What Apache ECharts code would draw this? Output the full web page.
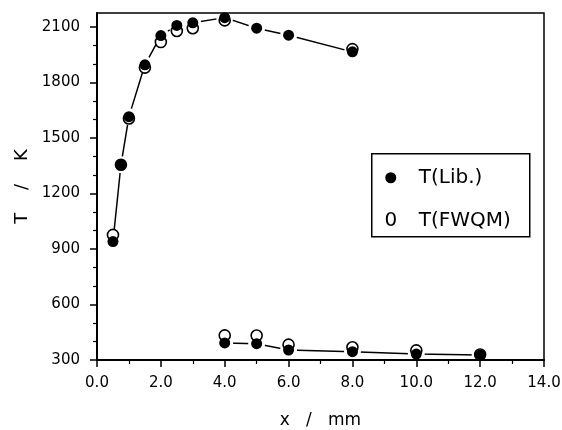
<!DOCTYPE html>
<html>
<head>
<meta charset="utf-8">
<script src="https://cdn.jsdelivr.net/npm/echarts@6/dist/echarts.min.js"></script>
<style>
  html, body { margin: 0; padding: 0; background: #fff; }
  #chart { width: 562px; height: 430px; }
</style>
</head>
<body>
<div id="chart"></div>
<script>
// Temperature profiles along the flame axis
const libUpperX = [0.5, 0.75, 1.0, 1.5, 2.0, 2.5, 3.0, 4.0, 5.0, 6.0, 8.0];
const libUpperT = [940, 1355, 1615, 1895, 2053, 2108, 2122, 2150, 2093, 2055, 1965];
const fwqmUpperX = [0.5, 0.75, 1.0, 1.5, 2.0, 2.5, 3.0, 4.0, 8.0];
const fwqmUpperT = [976, 1355, 1605, 1880, 2018, 2078, 2093, 2135, 1980];
const lowerX = [4.0, 5.0, 6.0, 8.0, 10.0, 12.0];
const libLowerT = [392, 388, 354, 345, 332, 327];
const fwqmLowerT = [433, 432, 383, 369, 352, 330];

const yTickValues = [300, 600, 900, 1200, 1500, 1800, 2100];
const yMinorValues = [400, 500, 700, 800, 1000, 1100, 1300, 1400, 1600, 1700, 1900, 2000];

const legendNames = ['T(Lib.)', 'T(FWQM)'];

const FONT = 'DejaVu Sans';

function pairs(xs, ys) {
  return xs.map((x, i) => [x, ys[i]]);
}

const chart = echarts.init(document.getElementById('chart'), null, { renderer: 'canvas' });

// white halo symbols on the connecting line leave a small gap around each marker
function connector(data) {
  return {
    type: 'line',
    data: data,
    z: 1,
    silent: true,
    symbol: 'circle',
    symbolSize: 17,
    itemStyle: { color: '#fff', borderWidth: 0, opacity: 1 },
    lineStyle: { color: '#000', width: 1.5 },
    emphasis: { disabled: true }
  };
}

function markers(data, filled) {
  return {
    type: 'scatter',
    data: data,
    z: filled ? 4 : 3,
    symbol: 'circle',
    symbolSize: 11,
    itemStyle: filled
      ? { color: '#000', borderWidth: 0, opacity: 1 }
      : { color: '#fff', borderColor: '#000', borderWidth: 1.6, opacity: 1 },
    emphasis: { disabled: true }
  };
}

const yBase = {
  type: 'value',
  min: 300,
  max: 2175,
  position: 'left',
  z: 2,
  splitLine: { show: false },
  axisLine: { onZero: false }
};

const option = {
  animation: false,
  backgroundColor: '#fff',
  grid: {
    left: 97, right: 18, top: 13, bottom: 70,
    outerBoundsMode: 'none',
    containLabel: false,
    show: true, borderColor: '#000', borderWidth: 1.5, z: 2
  },
  xAxis: {
    type: 'value',
    min: 0, max: 14, interval: 2,
    z: 2,
    axisLine: { onZero: false, lineStyle: { color: '#000', width: 2 } },
    axisTick: { length: 7, lineStyle: { color: '#000', width: 1.5 } },
    minorTick: { show: true, splitNumber: 2, length: 4, lineStyle: { color: '#000', width: 1.2 } },
    splitLine: { show: false },
    minorSplitLine: { show: false },
    axisLabel: {
      formatter: v => v.toFixed(1),
      fontFamily: FONT, fontSize: 15, color: '#000', margin: 16
    },
    name: 'x   /   mm',
    nameLocation: 'middle',
    nameGap: 52,
    nameTextStyle: { fontFamily: FONT, fontSize: 17, color: '#000' }
  },
  yAxis: [
    Object.assign({}, yBase, {
      axisLine: { onZero: false, lineStyle: { color: '#000', width: 2 } },
      axisTick: { customValues: yTickValues, length: 7, lineStyle: { color: '#000', width: 1.5 } },
      axisLabel: {
        customValues: yTickValues,
        formatter: v => String(v),
        fontFamily: FONT, fontSize: 15, color: '#000', margin: 17
      },
      name: 'T    /    K',
      nameLocation: 'middle',
      nameGap: 66,
      nameRotate: 90,
      nameTextStyle: { fontFamily: FONT, fontSize: 18, color: '#000' }
    }),
    Object.assign({}, yBase, {
      axisLine: { show: false, onZero: false },
      axisTick: { customValues: yMinorValues, length: 4, lineStyle: { color: '#000', width: 1.2 } },
      axisLabel: { show: false }
    })
  ],
  series: [
    connector(pairs(libUpperX, libUpperT)),
    connector(pairs(lowerX, libLowerT)),
    markers(pairs(fwqmUpperX, fwqmUpperT), false),
    markers(pairs(lowerX, fwqmLowerT), false),
    markers(pairs(libUpperX, libUpperT), true),
    markers(pairs(lowerX, libLowerT), true)
  ],
  graphic: [
    {
      type: 'group',
      left: 371, top: 153,
      z: 10,
      children: [
        {
          type: 'rect',
          shape: { x: 0, y: 0, width: 158, height: 83 },
          style: { fill: '#fff', stroke: '#000', lineWidth: 1.5 }
        },
        {
          type: 'circle',
          shape: { cx: 19, cy: 24, r: 5.5 },
          style: { fill: '#000' }
        },
        {
          type: 'text',
          x: 19, y: 67,
          style: { text: '0', fontFamily: FONT, fontSize: 20, fill: '#000', align: 'center', verticalAlign: 'middle' }
        },
        {
          type: 'text',
          x: 47, y: 24,
          style: { text: legendNames[0], fontFamily: FONT, fontSize: 20, fill: '#000', align: 'left', verticalAlign: 'middle' }
        },
        {
          type: 'text',
          x: 47, y: 67,
          style: { text: legendNames[1], fontFamily: FONT, fontSize: 20, fill: '#000', align: 'left', verticalAlign: 'middle' }
        }
      ]
    }
  ]
};

chart.setOption(option);
</script>
</body>
</html>
